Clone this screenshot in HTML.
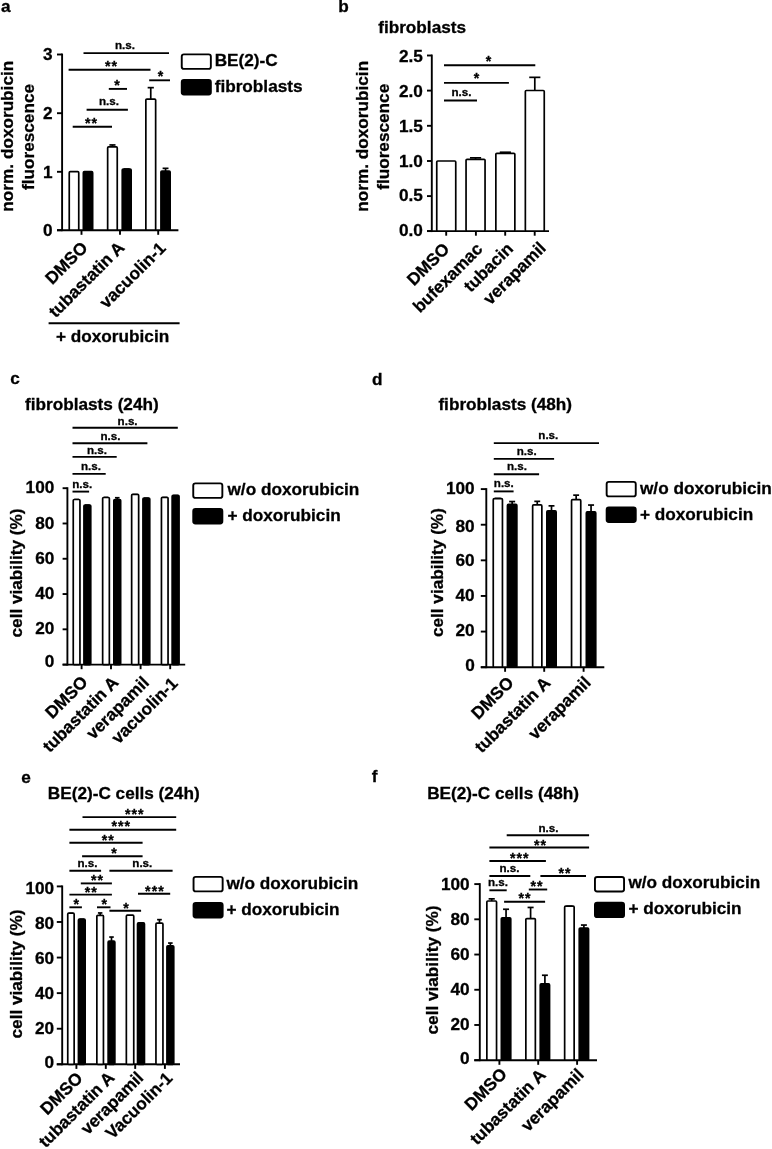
<!DOCTYPE html>
<html lang="en">
<head>
<meta charset="utf-8">
<title>Figure</title>
<style>
html,body{margin:0;padding:0;background:#fff;}
body{width:772px;height:1149px;overflow:hidden;}
svg{display:block;filter:blur(0.45px);}
</style>
</head>
<body>
<svg width="772" height="1149" viewBox="0 0 772 1149">
<rect x="0" y="0" width="772" height="1149" fill="#fff"/>
<g stroke="#000" fill="#000" font-family="'Liberation Sans', sans-serif" font-weight="bold" font-size="17.2">
<text stroke-width="0.3" x="0.9" y="12.3">a</text>
<line x1="62.1" y1="53.55" x2="62.1" y2="231.15" stroke-width="1.9"/>
<line x1="57" y1="230.2" x2="178.4" y2="230.2" stroke-width="1.9"/>
<line x1="57" y1="54.5" x2="62.1" y2="54.5" stroke-width="1.9"/>
<text stroke-width="0.3" x="52.6" y="60.25" text-anchor="end">3</text>
<line x1="57" y1="113.2" x2="62.1" y2="113.2" stroke-width="1.9"/>
<text stroke-width="0.3" x="52.6" y="118.95" text-anchor="end">2</text>
<line x1="57" y1="171.8" x2="62.1" y2="171.8" stroke-width="1.9"/>
<text stroke-width="0.3" x="52.6" y="177.55" text-anchor="end">1</text>
<line x1="57" y1="230.2" x2="62.1" y2="230.2" stroke-width="1.9"/>
<text stroke-width="0.3" x="52.6" y="235.95" text-anchor="end">0</text>
<line x1="81.5" y1="230.2" x2="81.5" y2="234.8" stroke-width="1.9"/>
<line x1="120" y1="230.2" x2="120" y2="234.8" stroke-width="1.9"/>
<line x1="158.2" y1="230.2" x2="158.2" y2="234.8" stroke-width="1.9"/>
<rect x="69.25" y="171.7" width="9.5" height="58.5" fill="#fff" stroke-width="1.7" rx="1"/>
<rect x="83.35" y="171.7" width="9.3" height="58.5" fill="#000" stroke-width="1.7" rx="1"/>
<line x1="112.45" y1="144.95" x2="112.45" y2="148.2" stroke-width="1.7"/>
<line x1="109.4" y1="144.95" x2="115.5" y2="144.95" stroke-width="1.7"/>
<rect x="107.65" y="146.9" width="9.6" height="83.3" fill="#fff" stroke-width="1.7" rx="1"/>
<line x1="126.7" y1="169.05" x2="126.7" y2="170.3" stroke-width="1.7"/>
<line x1="123.84" y1="169.05" x2="129.56" y2="169.05" stroke-width="1.7"/>
<rect x="122.25" y="169" width="8.9" height="61.2" fill="#000" stroke-width="1.7" rx="1"/>
<line x1="150.75" y1="87.65" x2="150.75" y2="100.4" stroke-width="1.7"/>
<line x1="147.65" y1="87.65" x2="153.85" y2="87.65" stroke-width="1.7"/>
<rect x="145.85" y="99.1" width="9.8" height="131.1" fill="#fff" stroke-width="1.7" rx="1"/>
<line x1="165.55" y1="168.35" x2="165.55" y2="172.3" stroke-width="1.7"/>
<line x1="162.61" y1="168.35" x2="168.49" y2="168.35" stroke-width="1.7"/>
<rect x="160.95" y="171" width="9.2" height="59.2" fill="#000" stroke-width="1.7" rx="1"/>
<text stroke-width="0.3" x="88.7" y="248.7" text-anchor="end" transform="rotate(-45 88.7 248.7)">DMSO</text>
<text stroke-width="0.3" x="125.5" y="248.7" text-anchor="end" transform="rotate(-45 125.5 248.7)">tubastatin A</text>
<text stroke-width="0.3" x="166.7" y="249.2" text-anchor="end" transform="rotate(-45 166.7 249.2)">vacuolin-1</text>
<line x1="83.5" y1="53.1" x2="169" y2="53.1" stroke-width="1.9"/>
<text stroke-width="0.3" x="125" y="48.9" text-anchor="middle" font-size="11.6">n.s.</text>
<line x1="68.6" y1="69.7" x2="150.5" y2="69.7" stroke-width="1.9"/>
<text stroke-width="0.3" x="111.5" y="71.4" letter-spacing="1" text-anchor="middle" font-size="14.2">**</text>
<line x1="149.2" y1="80.3" x2="170" y2="80.3" stroke-width="1.9"/>
<text stroke-width="0.3" x="161" y="81.2" letter-spacing="1" text-anchor="middle" font-size="14.2">*</text>
<line x1="108.8" y1="88.9" x2="127" y2="88.9" stroke-width="1.9"/>
<text stroke-width="0.3" x="117.5" y="89.9" letter-spacing="1" text-anchor="middle" font-size="14.2">*</text>
<line x1="86.6" y1="109.7" x2="127.9" y2="109.7" stroke-width="1.9"/>
<text stroke-width="0.3" x="109" y="105.3" text-anchor="middle" font-size="11.6">n.s.</text>
<line x1="72.7" y1="126.7" x2="112" y2="126.7" stroke-width="1.9"/>
<text stroke-width="0.3" x="91.5" y="127.9" letter-spacing="1" text-anchor="middle" font-size="14.2">**</text>
<line x1="48.6" y1="323.2" x2="179.6" y2="323.2" stroke-width="1.9"/>
<text stroke-width="0.3" x="56" y="341.8">+ doxorubicin</text>
<text stroke-width="0.3" x="13.5" y="136.2" text-anchor="middle" transform="rotate(-90 13.5 136.2)">norm. doxorubicin</text>
<text stroke-width="0.3" x="33.5" y="137" text-anchor="middle" transform="rotate(-90 33.5 137)">fluorescence</text>
<rect x="181.75" y="54.35" width="29.1" height="14.5" fill="#fff" stroke-width="1.9" rx="2.2"/>
<rect x="181.75" y="79.95" width="29.1" height="14.5" fill="#000" stroke-width="1.9" rx="2.2"/>
<text stroke-width="0.3" x="214.7" y="65.6">BE(2)-C</text>
<text stroke-width="0.3" x="214.7" y="91.8">fibroblasts</text>
<text stroke-width="0.3" x="338.3" y="12.2">b</text>
<text stroke-width="0.3" x="378.2" y="32.6">fibroblasts</text>
<line x1="431.8" y1="54.55" x2="431.8" y2="232.05" stroke-width="1.9"/>
<line x1="427" y1="231.1" x2="549" y2="231.1" stroke-width="1.9"/>
<line x1="427" y1="55.5" x2="431.8" y2="55.5" stroke-width="1.9"/>
<text stroke-width="0.3" x="422.9" y="61.95" text-anchor="end">2.5</text>
<line x1="427" y1="90.6" x2="431.8" y2="90.6" stroke-width="1.9"/>
<text stroke-width="0.3" x="422.9" y="97.25" text-anchor="end">2.0</text>
<line x1="427" y1="125.8" x2="431.8" y2="125.8" stroke-width="1.9"/>
<text stroke-width="0.3" x="422.9" y="132.05" text-anchor="end">1.5</text>
<line x1="427" y1="161" x2="431.8" y2="161" stroke-width="1.9"/>
<text stroke-width="0.3" x="422.9" y="167.25" text-anchor="end">1.0</text>
<line x1="427" y1="196.1" x2="431.8" y2="196.1" stroke-width="1.9"/>
<text stroke-width="0.3" x="422.9" y="201.35" text-anchor="end">0.5</text>
<line x1="427" y1="231.1" x2="431.8" y2="231.1" stroke-width="1.9"/>
<text stroke-width="0.3" x="422.9" y="235.95" text-anchor="end">0.0</text>
<line x1="446.2" y1="231.1" x2="446.2" y2="235.7" stroke-width="1.9"/>
<line x1="475.9" y1="231.1" x2="475.9" y2="235.7" stroke-width="1.9"/>
<line x1="505.2" y1="231.1" x2="505.2" y2="235.7" stroke-width="1.9"/>
<line x1="534.7" y1="231.1" x2="534.7" y2="235.7" stroke-width="1.9"/>
<rect x="436.75" y="161" width="19" height="70.1" fill="#fff" stroke-width="1.7" rx="1"/>
<line x1="475.55" y1="157.85" x2="475.55" y2="160.6" stroke-width="1.7"/>
<line x1="469.96" y1="157.85" x2="481.14" y2="157.85" stroke-width="1.7"/>
<rect x="466.05" y="159.3" width="19" height="71.8" fill="#fff" stroke-width="1.7" rx="1"/>
<line x1="505.35" y1="152.25" x2="505.35" y2="154.6" stroke-width="1.7"/>
<line x1="499.76" y1="152.25" x2="510.94" y2="152.25" stroke-width="1.7"/>
<rect x="495.85" y="153.3" width="19" height="77.8" fill="#fff" stroke-width="1.7" rx="1"/>
<line x1="534.8" y1="77.35" x2="534.8" y2="91.8" stroke-width="1.7"/>
<line x1="529.24" y1="77.35" x2="540.36" y2="77.35" stroke-width="1.7"/>
<rect x="525.35" y="90.5" width="18.9" height="140.6" fill="#fff" stroke-width="1.7" rx="1"/>
<text stroke-width="0.3" x="450.5" y="250.1" text-anchor="end" transform="rotate(-45 450.5 250.1)">DMSO</text>
<text stroke-width="0.3" x="483.6" y="250.1" text-anchor="end" transform="rotate(-45 483.6 250.1)">bufexamac</text>
<text stroke-width="0.3" x="514.1" y="249.8" text-anchor="end" transform="rotate(-45 514.1 249.8)">tubacin</text>
<text stroke-width="0.3" x="546.9" y="249.1" text-anchor="end" transform="rotate(-45 546.9 249.1)">verapamil</text>
<line x1="444" y1="65.2" x2="535.3" y2="65.2" stroke-width="1.9"/>
<text stroke-width="0.3" x="489" y="65.6" letter-spacing="1" text-anchor="middle" font-size="14.2">*</text>
<line x1="444" y1="82.9" x2="508.9" y2="82.9" stroke-width="1.9"/>
<text stroke-width="0.3" x="477" y="83.1" letter-spacing="1" text-anchor="middle" font-size="14.2">*</text>
<line x1="444" y1="100.5" x2="477" y2="100.5" stroke-width="1.9"/>
<text stroke-width="0.3" x="461.5" y="96" text-anchor="middle" font-size="11.6">n.s.</text>
<text stroke-width="0.3" x="368.1" y="136.3" text-anchor="middle" transform="rotate(-90 368.1 136.3)">norm. doxorubicin</text>
<text stroke-width="0.3" x="388.7" y="136.8" text-anchor="middle" transform="rotate(-90 388.7 136.8)">fluorescence</text>
<text stroke-width="0.3" x="10.3" y="384.3">c</text>
<text stroke-width="0.3" x="25" y="409.6">fibroblasts (24h)</text>
<line x1="67.4" y1="487.25" x2="67.4" y2="665.55" stroke-width="1.9"/>
<line x1="62.6" y1="664.6" x2="185.2" y2="664.6" stroke-width="1.9"/>
<line x1="62.6" y1="488.2" x2="67.4" y2="488.2" stroke-width="1.9"/>
<text stroke-width="0.3" x="54.3" y="492.65" text-anchor="end">100</text>
<line x1="62.6" y1="523.48" x2="67.4" y2="523.48" stroke-width="1.9"/>
<text stroke-width="0.3" x="54.3" y="528.73" text-anchor="end">80</text>
<line x1="62.6" y1="558.76" x2="67.4" y2="558.76" stroke-width="1.9"/>
<text stroke-width="0.3" x="54.3" y="563.71" text-anchor="end">60</text>
<line x1="62.6" y1="594.04" x2="67.4" y2="594.04" stroke-width="1.9"/>
<text stroke-width="0.3" x="54.3" y="599.19" text-anchor="end">40</text>
<line x1="62.6" y1="629.32" x2="67.4" y2="629.32" stroke-width="1.9"/>
<text stroke-width="0.3" x="54.3" y="633.87" text-anchor="end">20</text>
<line x1="62.6" y1="664.6" x2="67.4" y2="664.6" stroke-width="1.9"/>
<text stroke-width="0.3" x="54.3" y="667.15" text-anchor="end">0</text>
<line x1="81.6" y1="664.6" x2="81.6" y2="669.2" stroke-width="1.9"/>
<line x1="111" y1="664.6" x2="111" y2="669.2" stroke-width="1.9"/>
<line x1="140.6" y1="664.6" x2="140.6" y2="669.2" stroke-width="1.9"/>
<line x1="170.2" y1="664.6" x2="170.2" y2="669.2" stroke-width="1.9"/>
<line x1="76.6" y1="499.55" x2="76.6" y2="500.8" stroke-width="1.7"/>
<line x1="74.33" y1="499.55" x2="78.87" y2="499.55" stroke-width="1.7"/>
<rect x="73.25" y="499.5" width="6.7" height="165.1" fill="#fff" stroke-width="1.7" rx="1"/>
<line x1="87.35" y1="505.15" x2="87.35" y2="506.3" stroke-width="1.7"/>
<line x1="85.05" y1="505.15" x2="89.64" y2="505.15" stroke-width="1.7"/>
<rect x="83.95" y="505" width="6.8" height="159.6" fill="#000" stroke-width="1.7" rx="1"/>
<line x1="106" y1="497.45" x2="106" y2="498.8" stroke-width="1.7"/>
<line x1="103.73" y1="497.45" x2="108.27" y2="497.45" stroke-width="1.7"/>
<rect x="102.65" y="497.5" width="6.7" height="167.1" fill="#fff" stroke-width="1.7" rx="1"/>
<line x1="117.25" y1="497.75" x2="117.25" y2="500.8" stroke-width="1.7"/>
<line x1="114.95" y1="497.75" x2="119.55" y2="497.75" stroke-width="1.7"/>
<rect x="113.85" y="499.5" width="6.8" height="165.1" fill="#000" stroke-width="1.7" rx="1"/>
<line x1="135.15" y1="494.65" x2="135.15" y2="495.7" stroke-width="1.7"/>
<line x1="132.8" y1="494.65" x2="137.5" y2="494.65" stroke-width="1.7"/>
<rect x="131.65" y="494.4" width="7" height="170.2" fill="#fff" stroke-width="1.7" rx="1"/>
<line x1="146.35" y1="498.25" x2="146.35" y2="499.4" stroke-width="1.7"/>
<line x1="144.06" y1="498.25" x2="148.64" y2="498.25" stroke-width="1.7"/>
<rect x="142.95" y="498.1" width="6.8" height="166.5" fill="#000" stroke-width="1.7" rx="1"/>
<line x1="164.75" y1="497.65" x2="164.75" y2="498.6" stroke-width="1.7"/>
<line x1="162.51" y1="497.65" x2="166.99" y2="497.65" stroke-width="1.7"/>
<rect x="161.45" y="497.3" width="6.6" height="167.3" fill="#fff" stroke-width="1.7" rx="1"/>
<line x1="175.6" y1="495.65" x2="175.6" y2="496.7" stroke-width="1.7"/>
<line x1="173.28" y1="495.65" x2="177.92" y2="495.65" stroke-width="1.7"/>
<rect x="172.15" y="495.4" width="6.9" height="169.2" fill="#000" stroke-width="1.7" rx="1"/>
<text stroke-width="0.3" x="88.8" y="683.1" text-anchor="end" transform="rotate(-45 88.8 683.1)">DMSO</text>
<text stroke-width="0.3" x="119.5" y="683.6" text-anchor="end" transform="rotate(-45 119.5 683.6)">tubastatin A</text>
<text stroke-width="0.3" x="150.1" y="683.6" text-anchor="end" transform="rotate(-45 150.1 683.6)">verapamil</text>
<text stroke-width="0.3" x="178.7" y="684.6" text-anchor="end" transform="rotate(-45 178.7 684.6)">vacuolin-1</text>
<line x1="72.5" y1="427.7" x2="177.8" y2="427.7" stroke-width="1.9"/>
<text stroke-width="0.3" x="127.6" y="424.5" text-anchor="middle" font-size="11.6">n.s.</text>
<line x1="72.5" y1="443.3" x2="147.4" y2="443.3" stroke-width="1.9"/>
<text stroke-width="0.3" x="110.5" y="439.6" text-anchor="middle" font-size="11.6">n.s.</text>
<line x1="72.5" y1="456.9" x2="116.7" y2="456.9" stroke-width="1.9"/>
<text stroke-width="0.3" x="97" y="453.6" text-anchor="middle" font-size="11.6">n.s.</text>
<line x1="72.5" y1="473.9" x2="105.7" y2="473.9" stroke-width="1.9"/>
<text stroke-width="0.3" x="91" y="470" text-anchor="middle" font-size="11.6">n.s.</text>
<line x1="72.5" y1="491.6" x2="89.1" y2="491.6" stroke-width="1.9"/>
<text stroke-width="0.3" x="82.2" y="487.5" text-anchor="middle" font-size="11.6">n.s.</text>
<text stroke-width="0.3" x="22.2" y="573" text-anchor="middle" transform="rotate(-90 22.2 573)">cell viability (%)</text>
<rect x="193.25" y="483.35" width="29.1" height="14.5" fill="#fff" stroke-width="1.9" rx="2.2"/>
<rect x="193.25" y="508.95" width="29.1" height="14.5" fill="#000" stroke-width="1.9" rx="2.2"/>
<text stroke-width="0.3" x="227.5" y="495">w/o doxorubicin</text>
<text stroke-width="0.3" x="227.5" y="521.4">+ doxorubicin</text>
<text stroke-width="0.3" x="372" y="384.6">d</text>
<text stroke-width="0.3" x="438.4" y="409.6">fibroblasts (48h)</text>
<line x1="486.3" y1="488.15" x2="486.3" y2="668.15" stroke-width="1.9"/>
<line x1="480.8" y1="667.2" x2="604.3" y2="667.2" stroke-width="1.9"/>
<line x1="480.8" y1="489.1" x2="486.3" y2="489.1" stroke-width="1.9"/>
<text stroke-width="0.3" x="474.7" y="494.35" text-anchor="end">100</text>
<line x1="480.8" y1="524.72" x2="486.3" y2="524.72" stroke-width="1.9"/>
<text stroke-width="0.3" x="474.7" y="531.67" text-anchor="end">80</text>
<line x1="480.8" y1="560.34" x2="486.3" y2="560.34" stroke-width="1.9"/>
<text stroke-width="0.3" x="474.7" y="566.09" text-anchor="end">60</text>
<line x1="480.8" y1="595.96" x2="486.3" y2="595.96" stroke-width="1.9"/>
<text stroke-width="0.3" x="474.7" y="601.21" text-anchor="end">40</text>
<line x1="480.8" y1="631.58" x2="486.3" y2="631.58" stroke-width="1.9"/>
<text stroke-width="0.3" x="474.7" y="635.93" text-anchor="end">20</text>
<line x1="480.8" y1="667.2" x2="486.3" y2="667.2" stroke-width="1.9"/>
<text stroke-width="0.3" x="474.7" y="671.05" text-anchor="end">0</text>
<line x1="505.1" y1="667.2" x2="505.1" y2="671.8" stroke-width="1.9"/>
<line x1="544.2" y1="667.2" x2="544.2" y2="671.8" stroke-width="1.9"/>
<line x1="583.6" y1="667.2" x2="583.6" y2="671.8" stroke-width="1.9"/>
<line x1="497.85" y1="498.45" x2="497.85" y2="500" stroke-width="1.7"/>
<line x1="494.91" y1="498.45" x2="500.79" y2="498.45" stroke-width="1.7"/>
<rect x="493.25" y="498.7" width="9.2" height="168.5" fill="#fff" stroke-width="1.7" rx="1"/>
<line x1="512.15" y1="501.55" x2="512.15" y2="505.7" stroke-width="1.7"/>
<line x1="509.15" y1="501.55" x2="515.15" y2="501.55" stroke-width="1.7"/>
<rect x="507.45" y="504.4" width="9.4" height="162.8" fill="#000" stroke-width="1.7" rx="1"/>
<line x1="537.25" y1="501.35" x2="537.25" y2="506.2" stroke-width="1.7"/>
<line x1="534.31" y1="501.35" x2="540.19" y2="501.35" stroke-width="1.7"/>
<rect x="532.65" y="504.9" width="9.2" height="162.3" fill="#fff" stroke-width="1.7" rx="1"/>
<line x1="551.5" y1="505.85" x2="551.5" y2="512.2" stroke-width="1.7"/>
<line x1="548.53" y1="505.85" x2="554.47" y2="505.85" stroke-width="1.7"/>
<rect x="546.85" y="510.9" width="9.3" height="156.3" fill="#000" stroke-width="1.7" rx="1"/>
<line x1="576.15" y1="495.15" x2="576.15" y2="501" stroke-width="1.7"/>
<line x1="573.21" y1="495.15" x2="579.09" y2="495.15" stroke-width="1.7"/>
<rect x="571.55" y="499.7" width="9.2" height="167.5" fill="#fff" stroke-width="1.7" rx="1"/>
<line x1="591.05" y1="505.05" x2="591.05" y2="513.2" stroke-width="1.7"/>
<line x1="588.05" y1="505.05" x2="594.05" y2="505.05" stroke-width="1.7"/>
<rect x="586.35" y="511.9" width="9.4" height="155.3" fill="#000" stroke-width="1.7" rx="1"/>
<text stroke-width="0.3" x="514.6" y="683.7" text-anchor="end" transform="rotate(-45 514.6 683.7)">DMSO</text>
<text stroke-width="0.3" x="551.5" y="684.1" text-anchor="end" transform="rotate(-45 551.5 684.1)">tubastatin A</text>
<text stroke-width="0.3" x="591.9" y="683.7" text-anchor="end" transform="rotate(-45 591.9 683.7)">verapamil</text>
<line x1="493.8" y1="443.1" x2="599" y2="443.1" stroke-width="1.9"/>
<text stroke-width="0.3" x="548.3" y="439.4" text-anchor="middle" font-size="11.6">n.s.</text>
<line x1="493.8" y1="458.9" x2="554.1" y2="458.9" stroke-width="1.9"/>
<text stroke-width="0.3" x="526.7" y="455" text-anchor="middle" font-size="11.6">n.s.</text>
<line x1="493.8" y1="474.2" x2="539.1" y2="474.2" stroke-width="1.9"/>
<text stroke-width="0.3" x="517" y="470.4" text-anchor="middle" font-size="11.6">n.s.</text>
<line x1="493.8" y1="491.4" x2="513.6" y2="491.4" stroke-width="1.9"/>
<text stroke-width="0.3" x="503.8" y="486.5" text-anchor="middle" font-size="11.6">n.s.</text>
<text stroke-width="0.3" x="442.6" y="572.6" text-anchor="middle" transform="rotate(-90 442.6 572.6)">cell viability (%)</text>
<rect x="606.65" y="481.85" width="29.1" height="14.5" fill="#fff" stroke-width="1.9" rx="2.2"/>
<rect x="606.65" y="507.55" width="29.1" height="14.5" fill="#000" stroke-width="1.9" rx="2.2"/>
<text stroke-width="0.3" x="640" y="493.8">w/o doxorubicin</text>
<text stroke-width="0.3" x="640" y="519.7">+ doxorubicin</text>
<text stroke-width="0.3" x="21.2" y="782.6">e</text>
<text stroke-width="0.3" x="47.8" y="798.9">BE(2)-C cells (24h)</text>
<line x1="62.2" y1="885.45" x2="62.2" y2="1065.25" stroke-width="1.9"/>
<line x1="56.8" y1="1064.3" x2="180" y2="1064.3" stroke-width="1.9"/>
<line x1="56.8" y1="886.4" x2="62.2" y2="886.4" stroke-width="1.9"/>
<text stroke-width="0.3" x="54.1" y="894.05" text-anchor="end">100</text>
<line x1="56.8" y1="921.98" x2="62.2" y2="921.98" stroke-width="1.9"/>
<text stroke-width="0.3" x="54.1" y="929.23" text-anchor="end">80</text>
<line x1="56.8" y1="957.56" x2="62.2" y2="957.56" stroke-width="1.9"/>
<text stroke-width="0.3" x="54.1" y="963.71" text-anchor="end">60</text>
<line x1="56.8" y1="993.14" x2="62.2" y2="993.14" stroke-width="1.9"/>
<text stroke-width="0.3" x="54.1" y="999.49" text-anchor="end">40</text>
<line x1="56.8" y1="1028.72" x2="62.2" y2="1028.72" stroke-width="1.9"/>
<text stroke-width="0.3" x="54.1" y="1034.27" text-anchor="end">20</text>
<line x1="56.8" y1="1064.3" x2="62.2" y2="1064.3" stroke-width="1.9"/>
<text stroke-width="0.3" x="54.1" y="1067.75" text-anchor="end">0</text>
<line x1="76.4" y1="1064.3" x2="76.4" y2="1068.9" stroke-width="1.9"/>
<line x1="105.8" y1="1064.3" x2="105.8" y2="1068.9" stroke-width="1.9"/>
<line x1="135.2" y1="1064.3" x2="135.2" y2="1068.9" stroke-width="1.9"/>
<line x1="164.9" y1="1064.3" x2="164.9" y2="1068.9" stroke-width="1.9"/>
<line x1="70.95" y1="913.45" x2="70.95" y2="914.5" stroke-width="1.7"/>
<line x1="68.76" y1="913.45" x2="73.14" y2="913.45" stroke-width="1.7"/>
<rect x="67.75" y="913.2" width="6.4" height="151.1" fill="#fff" stroke-width="1.7" rx="1"/>
<line x1="81.8" y1="919.35" x2="81.8" y2="920.5" stroke-width="1.7"/>
<line x1="79.53" y1="919.35" x2="84.07" y2="919.35" stroke-width="1.7"/>
<rect x="78.45" y="919.2" width="6.7" height="145.1" fill="#000" stroke-width="1.7" rx="1"/>
<line x1="100.15" y1="912.95" x2="100.15" y2="916.6" stroke-width="1.7"/>
<line x1="97.91" y1="912.95" x2="102.39" y2="912.95" stroke-width="1.7"/>
<rect x="96.85" y="915.3" width="6.6" height="149" fill="#fff" stroke-width="1.7" rx="1"/>
<line x1="111.5" y1="937.05" x2="111.5" y2="942.5" stroke-width="1.7"/>
<line x1="109.23" y1="937.05" x2="113.77" y2="937.05" stroke-width="1.7"/>
<rect x="108.15" y="941.2" width="6.7" height="123.1" fill="#000" stroke-width="1.7" rx="1"/>
<rect x="126.35" y="915.2" width="7.4" height="149.1" fill="#fff" stroke-width="1.7" rx="1"/>
<line x1="141" y1="923.15" x2="141" y2="924.2" stroke-width="1.7"/>
<line x1="138.68" y1="923.15" x2="143.32" y2="923.15" stroke-width="1.7"/>
<rect x="137.55" y="922.9" width="6.9" height="141.4" fill="#000" stroke-width="1.7" rx="1"/>
<line x1="159.45" y1="919.65" x2="159.45" y2="924.5" stroke-width="1.7"/>
<line x1="157.1" y1="919.65" x2="161.8" y2="919.65" stroke-width="1.7"/>
<rect x="155.95" y="923.2" width="7" height="141.1" fill="#fff" stroke-width="1.7" rx="1"/>
<line x1="170.35" y1="943.05" x2="170.35" y2="947.1" stroke-width="1.7"/>
<line x1="168.06" y1="943.05" x2="172.64" y2="943.05" stroke-width="1.7"/>
<rect x="166.95" y="945.8" width="6.8" height="118.5" fill="#000" stroke-width="1.7" rx="1"/>
<text stroke-width="0.3" x="83.7" y="1079.3" text-anchor="end" transform="rotate(-45 83.7 1079.3)">DMSO</text>
<text stroke-width="0.3" x="115.5" y="1078.8" text-anchor="end" transform="rotate(-45 115.5 1078.8)">tubastatin A</text>
<text stroke-width="0.3" x="144.5" y="1078.8" text-anchor="end" transform="rotate(-45 144.5 1078.8)">verapamil</text>
<text stroke-width="0.3" x="173.4" y="1079.3" text-anchor="end" transform="rotate(-45 173.4 1079.3)">Vacuolin-1</text>
<line x1="82.5" y1="817.1" x2="176.2" y2="817.1" stroke-width="1.9"/>
<text stroke-width="0.3" x="134.8" y="818.5" letter-spacing="1" text-anchor="middle" font-size="14.2">***</text>
<line x1="69.4" y1="829.7" x2="176.2" y2="829.7" stroke-width="1.9"/>
<text stroke-width="0.3" x="121.3" y="830.9" letter-spacing="1" text-anchor="middle" font-size="14.2">***</text>
<line x1="69.4" y1="842.8" x2="142.6" y2="842.8" stroke-width="1.9"/>
<text stroke-width="0.3" x="108.3" y="844.8" letter-spacing="1" text-anchor="middle" font-size="14.2">**</text>
<line x1="82.1" y1="856.2" x2="142.6" y2="856.2" stroke-width="1.9"/>
<text stroke-width="0.3" x="114.5" y="857.9" letter-spacing="1" text-anchor="middle" font-size="14.2">*</text>
<line x1="69.4" y1="870.8" x2="101.1" y2="870.8" stroke-width="1.9"/>
<text stroke-width="0.3" x="87.4" y="867.2" text-anchor="middle" font-size="11.6">n.s.</text>
<line x1="109.4" y1="870.8" x2="172.6" y2="870.8" stroke-width="1.9"/>
<text stroke-width="0.3" x="142.3" y="867.2" text-anchor="middle" font-size="11.6">n.s.</text>
<line x1="80.8" y1="883.4" x2="111.9" y2="883.4" stroke-width="1.9"/>
<text stroke-width="0.3" x="97.5" y="885.2" letter-spacing="1" text-anchor="middle" font-size="14.2">**</text>
<line x1="69.4" y1="894.6" x2="111.9" y2="894.6" stroke-width="1.9"/>
<text stroke-width="0.3" x="91.3" y="896.6" letter-spacing="1" text-anchor="middle" font-size="14.2">**</text>
<line x1="138" y1="893.8" x2="170.2" y2="893.8" stroke-width="1.9"/>
<text stroke-width="0.3" x="154.9" y="895.6" letter-spacing="1" text-anchor="middle" font-size="14.2">***</text>
<line x1="69.4" y1="907.3" x2="81.9" y2="907.3" stroke-width="1.9"/>
<text stroke-width="0.3" x="76.8" y="908.7" letter-spacing="1" text-anchor="middle" font-size="14.2">*</text>
<line x1="97" y1="907.3" x2="110.5" y2="907.3" stroke-width="1.9"/>
<text stroke-width="0.3" x="104.7" y="908.7" letter-spacing="1" text-anchor="middle" font-size="14.2">*</text>
<line x1="109.4" y1="910.8" x2="141.1" y2="910.8" stroke-width="1.9"/>
<text stroke-width="0.3" x="126.5" y="912.9" letter-spacing="1" text-anchor="middle" font-size="14.2">*</text>
<text stroke-width="0.3" x="22.2" y="974" text-anchor="middle" transform="rotate(-90 22.2 974)">cell viability (%)</text>
<rect x="193.55" y="876.85" width="29.1" height="14.5" fill="#fff" stroke-width="1.9" rx="2.2"/>
<rect x="193.55" y="902.95" width="29.1" height="14.5" fill="#000" stroke-width="1.9" rx="2.2"/>
<text stroke-width="0.3" x="226.4" y="888.8">w/o doxorubicin</text>
<text stroke-width="0.3" x="226.4" y="914.7">+ doxorubicin</text>
<text stroke-width="0.3" x="371.8" y="782">f</text>
<text stroke-width="0.3" x="427.2" y="798.8">BE(2)-C cells (48h)</text>
<line x1="479.8" y1="883.15" x2="479.8" y2="1061.15" stroke-width="1.9"/>
<line x1="474.3" y1="1060.2" x2="597" y2="1060.2" stroke-width="1.9"/>
<line x1="474.3" y1="884.1" x2="479.8" y2="884.1" stroke-width="1.9"/>
<text stroke-width="0.3" x="469.6" y="889.85" text-anchor="end">100</text>
<line x1="474.3" y1="919.32" x2="479.8" y2="919.32" stroke-width="1.9"/>
<text stroke-width="0.3" x="469.6" y="925.37" text-anchor="end">80</text>
<line x1="474.3" y1="954.54" x2="479.8" y2="954.54" stroke-width="1.9"/>
<text stroke-width="0.3" x="469.6" y="960.29" text-anchor="end">60</text>
<line x1="474.3" y1="989.76" x2="479.8" y2="989.76" stroke-width="1.9"/>
<text stroke-width="0.3" x="469.6" y="995.31" text-anchor="end">40</text>
<line x1="474.3" y1="1024.98" x2="479.8" y2="1024.98" stroke-width="1.9"/>
<text stroke-width="0.3" x="469.6" y="1030.23" text-anchor="end">20</text>
<line x1="474.3" y1="1060.2" x2="479.8" y2="1060.2" stroke-width="1.9"/>
<text stroke-width="0.3" x="469.6" y="1064.25" text-anchor="end">0</text>
<line x1="499.4" y1="1060.2" x2="499.4" y2="1064.8" stroke-width="1.9"/>
<line x1="538.2" y1="1060.2" x2="538.2" y2="1064.8" stroke-width="1.9"/>
<line x1="577.1" y1="1060.2" x2="577.1" y2="1064.8" stroke-width="1.9"/>
<line x1="491.7" y1="898.85" x2="491.7" y2="902.3" stroke-width="1.7"/>
<line x1="488.62" y1="898.85" x2="494.78" y2="898.85" stroke-width="1.7"/>
<rect x="486.85" y="901" width="9.7" height="159.2" fill="#fff" stroke-width="1.7" rx="1"/>
<line x1="506.05" y1="909.25" x2="506.05" y2="919.1" stroke-width="1.7"/>
<line x1="503.05" y1="909.25" x2="509.05" y2="909.25" stroke-width="1.7"/>
<rect x="501.35" y="917.8" width="9.4" height="142.4" fill="#000" stroke-width="1.7" rx="1"/>
<line x1="530.6" y1="907.45" x2="530.6" y2="919.9" stroke-width="1.7"/>
<line x1="527.58" y1="907.45" x2="533.62" y2="907.45" stroke-width="1.7"/>
<rect x="525.85" y="918.6" width="9.5" height="141.6" fill="#fff" stroke-width="1.7" rx="1"/>
<line x1="544.9" y1="975.25" x2="544.9" y2="985.2" stroke-width="1.7"/>
<line x1="541.93" y1="975.25" x2="547.87" y2="975.25" stroke-width="1.7"/>
<rect x="540.25" y="983.9" width="9.3" height="76.3" fill="#000" stroke-width="1.7" rx="1"/>
<line x1="569.4" y1="906.25" x2="569.4" y2="907.5" stroke-width="1.7"/>
<line x1="566.38" y1="906.25" x2="572.42" y2="906.25" stroke-width="1.7"/>
<rect x="564.65" y="906.2" width="9.5" height="154" fill="#fff" stroke-width="1.7" rx="1"/>
<line x1="583.9" y1="925.05" x2="583.9" y2="929.4" stroke-width="1.7"/>
<line x1="580.93" y1="925.05" x2="586.87" y2="925.05" stroke-width="1.7"/>
<rect x="579.25" y="928.1" width="9.3" height="132.1" fill="#000" stroke-width="1.7" rx="1"/>
<text stroke-width="0.3" x="507.9" y="1075" text-anchor="end" transform="rotate(-45 507.9 1075)">DMSO</text>
<text stroke-width="0.3" x="546.7" y="1076" text-anchor="end" transform="rotate(-45 546.7 1076)">tubastatin A</text>
<text stroke-width="0.3" x="584.8" y="1075.7" text-anchor="end" transform="rotate(-45 584.8 1075.7)">verapamil</text>
<line x1="506.7" y1="835.3" x2="589.1" y2="835.3" stroke-width="1.9"/>
<text stroke-width="0.3" x="548.5" y="831.7" text-anchor="middle" font-size="11.6">n.s.</text>
<line x1="489.4" y1="847.5" x2="589.1" y2="847.5" stroke-width="1.9"/>
<text stroke-width="0.3" x="540.4" y="849.5" letter-spacing="1" text-anchor="middle" font-size="14.2">**</text>
<line x1="489.4" y1="861" x2="545.9" y2="861" stroke-width="1.9"/>
<text stroke-width="0.3" x="519.7" y="862.9" letter-spacing="1" text-anchor="middle" font-size="14.2">***</text>
<line x1="489.4" y1="876" x2="530.3" y2="876" stroke-width="1.9"/>
<text stroke-width="0.3" x="509.5" y="872.1" text-anchor="middle" font-size="11.6">n.s.</text>
<line x1="540.4" y1="876" x2="586" y2="876" stroke-width="1.9"/>
<text stroke-width="0.3" x="565" y="878" letter-spacing="1" text-anchor="middle" font-size="14.2">**</text>
<line x1="489.4" y1="890.3" x2="506.7" y2="890.3" stroke-width="1.9"/>
<text stroke-width="0.3" x="498" y="886.4" text-anchor="middle" font-size="11.6">n.s.</text>
<line x1="528.8" y1="889.5" x2="547.2" y2="889.5" stroke-width="1.9"/>
<text stroke-width="0.3" x="537" y="890.9" letter-spacing="1" text-anchor="middle" font-size="14.2">**</text>
<line x1="504.1" y1="901.7" x2="545.1" y2="901.7" stroke-width="1.9"/>
<text stroke-width="0.3" x="524.9" y="902.6" letter-spacing="1" text-anchor="middle" font-size="14.2">**</text>
<text stroke-width="0.3" x="438.4" y="970" text-anchor="middle" transform="rotate(-90 438.4 970)">cell viability (%)</text>
<rect x="594.95" y="877.05" width="29.1" height="14.5" fill="#fff" stroke-width="1.9" rx="2.2"/>
<rect x="594.95" y="902.65" width="29.1" height="14.5" fill="#000" stroke-width="1.9" rx="2.2"/>
<text stroke-width="0.3" x="628.4" y="888.2">w/o doxorubicin</text>
<text stroke-width="0.3" x="628.4" y="914.4">+ doxorubicin</text>
</g>
</svg>
</body>
</html>
